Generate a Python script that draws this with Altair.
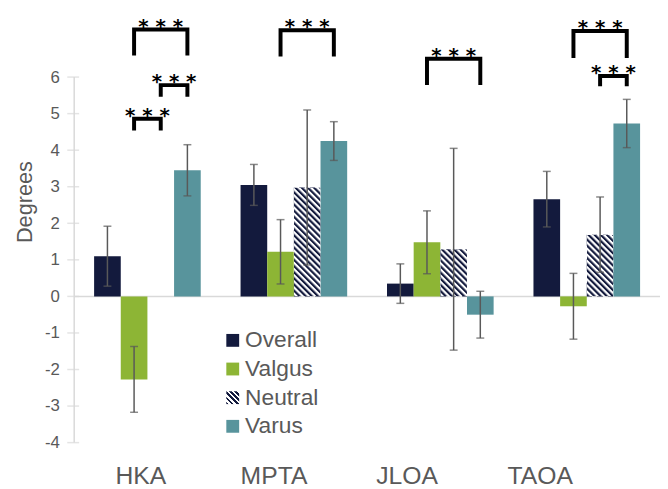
import urllib.parse
import altair as alt
import pandas as pd

# ---------------- data ----------------
categories = ["HKA", "MPTA", "JLOA", "TAOA"]
series = ["Overall", "Valgus", "Neutral", "Varus"]

overall = [1.10, 3.05, 0.35, 2.66]
overall_err = [0.82, 0.56, 0.54, 0.76]
valgus = [-2.27, 1.22, 1.48, -0.27]
valgus_err = [0.90, 0.88, 0.86, 0.90]
neutral = [0.0, 2.98, 1.29, 1.69]
neutral_err = [0.0, 2.12, 2.76, 1.03]
varus = [3.45, 4.25, -0.50, 4.73]
varus_err = [0.70, 0.53, 0.64, 0.66]

# significance brackets
br_category = ["HKA", "HKA", "HKA", "MPTA", "JLOA", "TAOA", "TAOA"]
br_from = ["Valgus", "Neutral", "Valgus", "Valgus", "Valgus", "Valgus", "Neutral"]
br_to = ["Varus", "Varus", "Neutral", "Varus", "Varus", "Varus", "Varus"]
br_top = [7.30, 5.78, 4.86, 7.28, 6.50, 7.26, 6.03]
br_bottom = [6.59, 5.46, 4.54, 6.56, 5.78, 6.52, 5.75]
br_label = "* * *"

y_ticks = [-4, -3, -2, -1, 0, 1, 2, 3, 4, 5, 6]

# ---------------- styles ----------------
NAVY = "#131a3d"
FONT = "Liberation Sans"
GREY_TXT = "#595959"
GREY_LINE = "#d9d9d9"
BW = 0.182  # bar width in category units

# striped swatch for the "Neutral" legend entry (diagonal stripes via hard-stop gradient)
n_stripes = 5
stops = []
for k in range(n_stripes):
    a, m, b = k / n_stripes, (k + 0.5) / n_stripes, (k + 1) / n_stripes
    stops += [f"{{offset: {a:.3f}, color: '{NAVY}'}}", f"{{offset: {m:.3f}, color: '{NAVY}'}}",
              f"{{offset: {m:.3f}, color: 'white'}}", f"{{offset: {b:.3f}, color: 'white'}}"]
stripe_expr = "{gradient: 'linear', x1: 0, y1: 1, x2: 1, y2: 0, stops: [" + ", ".join(stops) + "]}"
colors = [NAVY, "#8db535", {"expr": stripe_expr}, "#58949c"]

values = {"Overall": (overall, overall_err), "Valgus": (valgus, valgus_err),
          "Neutral": (neutral, neutral_err), "Varus": (varus, varus_err)}

rows = []
for i, c in enumerate(categories):
    for j, s in enumerate(series):
        v, e = values[s][0][i], values[s][1][i]
        x0 = i + (j - 2) * BW
        rows.append(dict(category=c, series=s, value=v, err=e, x0=x0, x1=x0 + BW,
                         xc=x0 + BW / 2, lo=v - e, hi=v + e, base=0.0))
bars = pd.DataFrame(rows)


def center(cat, ser):
    r = bars[(bars.category == cat) & (bars.series == ser)].iloc[0]
    return r.xc


line_rows, text_rows = [], []
for k in range(len(br_category)):
    xa = center(br_category[k], br_from[k])
    xb = center(br_category[k], br_to[k])
    pts = [(xa, br_bottom[k]), (xa, br_top[k]), (xb, br_top[k]), (xb, br_bottom[k])]
    for o, (px, py) in enumerate(pts):
        line_rows.append(dict(bid=k, step=o, x=px, y=py))
    text_rows.append(dict(x=(xa + xb) / 2, y=br_top[k], label=br_label))
br_lines = pd.DataFrame(line_rows)
br_text = pd.DataFrame(text_rows)

hatch_svg = (
    "<svg xmlns='http://www.w3.org/2000/svg'><defs>"
    "<pattern id='p' width='4.4' height='4.4' patternUnits='userSpaceOnUse' patternTransform='rotate(-45)'>"
    f"<rect width='2.2' height='4.4' fill='{NAVY}'/></pattern></defs>"
    "<rect width='100%' height='100%' fill='white'/>"
    "<rect width='100%' height='100%' fill='url(#p)'/></svg>"
)
hatch_url = "data:image/svg+xml," + urllib.parse.quote(hatch_svg, safe="")

xscale = alt.Scale(domain=[-0.5, 3.5], nice=False, zero=False)
yscale = alt.Scale(domain=[-4, 7.81], nice=False, zero=False)


def X(f):
    return alt.X(f, type="quantitative", scale=xscale, axis=None)


zero_line = alt.Chart(pd.DataFrame({"y": [0]})).mark_rule(
    color=GREY_LINE, strokeWidth=1.5).encode(y=alt.Y("y:Q", scale=yscale))

axis_line = alt.Chart(pd.DataFrame({"y": [min(y_ticks)], "y2": [max(y_ticks)]})).mark_rule(
    color=GREY_LINE, strokeWidth=1.5).encode(x=alt.value(0), y="y:Q", y2="y2:Q")

axis_ticks = alt.Chart(pd.DataFrame({"y": y_ticks})).mark_tick(
    color=GREY_LINE, orient="horizontal", size=12, thickness=1.5).encode(
    x=alt.value(-1), y="y:Q")

bar_layer = alt.Chart(bars).mark_bar().encode(
    x=X("x0"), x2="x1",
    y=alt.Y("value:Q", scale=yscale,
            axis=alt.Axis(values=y_ticks, title="Degrees", grid=False, domain=False, ticks=False,
                          labelFontSize=17, labelColor=GREY_TXT, labelFont=FONT,
                          labelExpr="'' + datum.value",
                          labelPadding=15, titleFontSize=22, titleFont=FONT,
                          titleFontWeight="normal", titleColor=GREY_TXT,
                          titleX=-50, titleY=193, titleBaseline="middle")),
    y2="base:Q",
    color=alt.Color("series:N", sort=series, scale=alt.Scale(domain=series, range=colors),
                    legend=alt.Legend(title=None, orient="none", legendX=149, legendY=322,
                                      symbolType="square", symbolSize=169, symbolStrokeWidth=0,
                                      labelFontSize=23, labelFont=FONT, labelColor=GREY_TXT,
                                      rowPadding=5, labelOffset=1, padding=0)),
)

hatch_layer = alt.Chart(bars).transform_filter(
    (alt.datum.series == "Neutral") & (alt.datum.value != 0)
).mark_image(aspect=False).encode(
    x=X("x0"), x2="x1", y="value:Q", y2="base:Q", url=alt.value(hatch_url))

err_df = bars[bars.err > 0]
err_rule = alt.Chart(err_df).mark_rule(color=GREY_TXT, strokeWidth=1.5).encode(
    x=X("xc"), y="lo:Q", y2="hi:Q")
cap_lo = alt.Chart(err_df).mark_tick(color=GREY_TXT, orient="horizontal", size=8, thickness=1.5).encode(
    x=X("xc"), y="lo:Q")
cap_hi = alt.Chart(err_df).mark_tick(color=GREY_TXT, orient="horizontal", size=8, thickness=1.5).encode(
    x=X("xc"), y="hi:Q")

bracket_layer = alt.Chart(br_lines).mark_line(color="black", strokeWidth=4, strokeJoin="miter").encode(
    x=X("x"), y="y:Q", detail="bid:N", order="step:Q")

star_layer = alt.Chart(br_text).mark_text(font="DejaVu Sans", fontSize=20, fontWeight="bold", color="black",
                                          baseline="alphabetic", dy=3).encode(
    x=X("x"), y="y:Q", text="label:N")

labels_layer = alt.Chart(pd.DataFrame({"category": categories})).mark_point(opacity=0).encode(
    x=alt.X("category:N", sort=categories,
            scale=alt.Scale(type="point", padding=0.70, align=0.355),
            axis=alt.Axis(title=None, orient="bottom", ticks=False, domain=False, labelAngle=0,
                          labelFontSize=25, labelFont=FONT, labelColor=GREY_TXT, labelPadding=41,
                          labelBaseline="alphabetic")))

chart = alt.layer(
    zero_line, axis_line, axis_ticks, bar_layer, hatch_layer, err_rule, cap_lo, cap_hi,
    bracket_layer, star_layer, labels_layer
).resolve_scale(x="independent").properties(
    width=593, height=437,
    padding={"left": 67, "top": 0, "right": 0, "bottom": 44},
    autosize=alt.AutoSizeParams(type="none"),
    background="white",
).configure_view(stroke=None)

chart.save("out.html", embed_options={"renderer": "svg", "actions": False})
